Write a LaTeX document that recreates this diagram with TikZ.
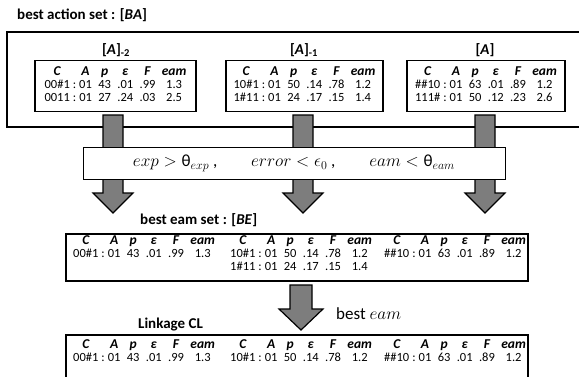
\documentclass[tikz,border=0pt]{standalone}
\usepackage{fontspec}
\setmainfont{Carlito}
\usepackage{array}
\definecolor{arrgray}{RGB}{125,125,125}
\newcommand{\bi}[1]{{\fontsize{13.5}{14}\selectfont\bfseries\itshape #1}}
\newcommand{\hd}{\bi{C} & & \bi{A} & \bi{p} & \bi{ε} & \bi{F} & \bi{eam}\\}
\newcommand{\cltab}[1]{{\setlength\tabcolsep{3.2pt}\renewcommand\arraystretch{1.0}%
  \begin{tabular}{@{}c@{\hspace{3pt}}c@{\hspace{3pt}}c c c c c@{}}\hd #1\end{tabular}}}
\newcommand{\blockarrow}[6]{%
  \draw[arr] ({#1-#5},#2) -- ({#1+#5},#2) -- ({#1+#5},#3) -- ({#1+#6},#3) -- (#1,#4)
   -- ({#1-#6},#3) -- ({#1-#5},#3) -- cycle;}
\newcommand{\uth}{\mbox{θ}}
\tikzset{
  arr/.style={draw=black, fill=arrgray, line width=1.2pt, line join=miter},
  tbox/.style={draw=black, line width=1.3pt, fill=white, inner sep=0pt},
  tabtxt/.style={font=\fontsize{12.5}{13}\selectfont, inner sep=0pt},
  ttl/.style={font=\fontsize{15}{17}\selectfont\bfseries, inner sep=0pt},
}
\begin{document}
\begin{tikzpicture}[x=1pt, y=-1pt]
\useasboundingbox (0,0) rectangle (579,376);
\clip (0,0) rectangle (579,376);
\fill[white] (0,0) rectangle (579,376);
% title and outer box
\node[ttl, anchor=west] (ttlBA) at (17,15) {best action set : [\textit{BA}]};
\draw[line width=1.3pt] (590,32) -- (7,32) -- (7,127) -- (590,127);
% set labels
\node[ttl] (l2) at (116,50) {[\textit{A}]\textsubscript{-2}};
\node[ttl] (l1) at (304,50) {[\textit{A}]\textsubscript{-1}};
\node[ttl] (l0) at (485,50) {[\textit{A}]};
% small boxes
\node[tbox, minimum width=161pt, minimum height=51pt] (b2) at (115.5,86) {};
\node[tabtxt] (t2) at (b2.center) {\cltab{00\#1 & : & 01 & 43 & .01 & .99 & 1.3\\ 0011 & : & 01 & 27 & .24 & .03 & 2.5\\}};
\node[tbox, minimum width=157pt, minimum height=51pt] (b1) at (304.5,86) {};
\node[tabtxt] (t1) at (b1.center) {\cltab{10\#1 & : & 01 & 50 & .14 & .78 & 1.2\\ 1\#11 & : & 01 & 24 & .17 & .15 & 1.4\\}};
\node[tbox, minimum width=158pt, minimum height=51pt] (b0) at (486,86) {};
\node[tabtxt] (t0) at (b0.center) {\cltab{\#\#10 & : & 01 & 63 & .01 & .89 & 1.2\\ 111\# & : & 01 & 50 & .12 & .23 & 2.6\\}};
% arrows
\blockarrow{113}{115}{193}{213}{10}{20}
\blockarrow{303}{115}{193}{213}{10}{20}
\blockarrow{485}{115}{193}{213}{10}{20}
% condition box
\node[draw=black, line width=0.8pt, fill=white, minimum width=422pt, minimum height=32pt, inner sep=0pt] (cond) at (294,163.5)
  {\fontsize{17}{19}\selectfont $exp > \uth_{exp}$ ,\hspace{30pt} $error < \epsilon_0$ ,\hspace{30pt} $eam < \uth_{eam}$};
% best eam set
\node[ttl, anchor=west] (ttlBE) at (140,220) {best eam set : [\textit{BE}]};
\node[draw=black, line width=1.6pt, minimum width=462pt, minimum height=47pt, inner sep=0pt, anchor=north west] (BE) at (65,233) {};
\node[tabtxt, anchor=north west] (be1) at (73,235) {\cltab{00\#1 & : & 01 & 43 & .01 & .99 & 1.3\\}};
\node[tabtxt, anchor=north west] (be2) at (230,235) {\cltab{10\#1 & : & 01 & 50 & .14 & .78 & 1.2\\ 1\#11 & : & 01 & 24 & .17 & .15 & 1.4\\}};
\node[tabtxt, anchor=north west] (be3) at (384,235) {\cltab{\#\#10 & : & 01 & 63 & .01 & .89 & 1.2\\}};
% middle arrow
\blockarrow{301}{285}{309}{330}{11}{22}
\node[anchor=west, inner sep=0pt, font=\fontsize{17}{19}\selectfont] (bestlab) at (336,314) {best $eam$};
% linkage CL
\node[ttl, anchor=west] (ttlCL) at (138,325) {Linkage CL};
\node[draw=black, line width=1.6pt, minimum width=462pt, minimum height=50pt, inner sep=0pt, anchor=north west] (CL) at (65,334) {};
\node[tabtxt, anchor=north west] (cl1) at (73,339) {\cltab{00\#1 & : & 01 & 43 & .01 & .99 & 1.3\\}};
\node[tabtxt, anchor=north west] (cl2) at (230,339) {\cltab{10\#1 & : & 01 & 50 & .14 & .78 & 1.2\\}};
\node[tabtxt, anchor=north west] (cl3) at (384,339) {\cltab{\#\#10 & : & 01 & 63 & .01 & .89 & 1.2\\}};
\end{tikzpicture}
\end{document}
